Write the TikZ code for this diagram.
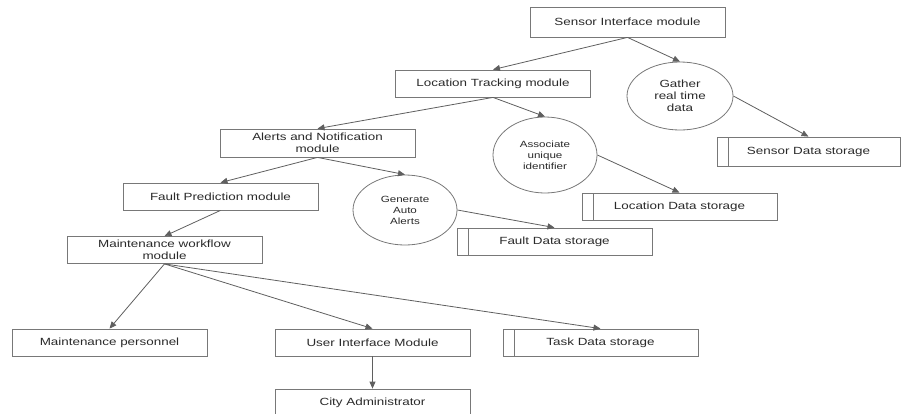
\documentclass[tikz,border=0pt]{standalone}
\usepackage{fontspec}
\setmainfont[FakeStretch=1.29]{Liberation Sans}
\usetikzlibrary{
  arrows.meta,
  shapes.geometric
}
\definecolor{FlowLine}{HTML}{5F5F5F}
\definecolor{FlowEdge}{HTML}{787878}
\definecolor{FlowText}{HTML}{2A2A2A}

\begin{document}
\begin{tikzpicture}[
  x=1pt,y=-1pt,
  every node/.style={font=\fontsize{10.4}{12}\selectfont,text=FlowText},
  box/.style={draw=FlowEdge,line width=0.8pt,fill=white,align=center,
    minimum width=195pt,minimum height=27pt,inner sep=1pt},
  store/.style={box,path picture={\draw[FlowEdge,line width=0.8pt]
    ([xshift=11pt]path picture bounding box.north west) --
    ([xshift=11pt]path picture bounding box.south west);}},
  proc/.style={ellipse,draw=FlowEdge,line width=0.8pt,fill=white,
    align=center,inner sep=0pt,minimum width=104pt,minimum height=70pt},
  small/.style={font=\fontsize{9}{11}\selectfont},
  arrow/.style={-{Triangle[length=7pt,width=6pt]},line width=0.8pt,
    color=FlowLine}
]
\useasboundingbox (0,0) rectangle (901,413);

% modules
\node[box,minimum height=30pt] (sensor) at (627.5,22) {Sensor Interface module};
\node[box] (location) at (493,83.5) {Location Tracking module};
\node[box,minimum height=28pt] (alerts) at (317.5,143)
  {Alerts and Notification\\module};
\node[box] (fault) at (220.5,196.5) {Fault Prediction module};
\node[box] (workflow) at (164.5,250) {Maintenance workflow\\module};
\node[box] (personnel) at (109.5,342.5) {Maintenance personnel};
\node[box] (ui) at (372.5,342.5) {User Interface Module};
\node[box] (admin) at (372.5,402.5) {City Administrator};

% processes
\node[proc,minimum width=106pt,minimum height=68pt] (gather) at (680,96)
  {Gather\\real time\\data};
\node[proc,small,minimum height=76pt] (associate) at (545,155)
  {Associate\\unique\\identifier};
\node[proc,small] (generate) at (405,210) {Generate\\Auto\\Alerts};

% data stores
\node[store,minimum width=183pt,minimum height=29pt] (sensorstore)
  at (808.5,151.5) {Sensor Data storage};
\node[store] (locstore) at (679.5,206.5) {Location Data storage};
\node[store] (faultstore) at (554.5,241.5) {Fault Data storage};
\node[store] (taskstore) at (600.5,342.5) {Task Data storage};

\draw[arrow] (sensor.south) -- (location.north);
\draw[arrow] (sensor.south) -- (gather.north);
\draw[arrow] (gather.east) -- (sensorstore.north);
\draw[arrow] (location.south) -- (alerts.north);
\draw[arrow] (location.south) -- (associate.north);
\draw[arrow] (associate.east) -- (locstore.north);
\draw[arrow] (alerts.south) -- (fault.north);
\draw[arrow] (alerts.south) -- (generate.north);
\draw[arrow] (generate.east) -- (faultstore.north);
\draw[arrow] (fault.south) -- (workflow.north);
\draw[arrow] (workflow.south) -- (personnel.north);
\draw[arrow] (workflow.south) -- (ui.north);
\draw[arrow] (workflow.south) -- (taskstore.north);
\draw[arrow] (ui.south) -- (admin.north);
\end{tikzpicture}
\end{document}
